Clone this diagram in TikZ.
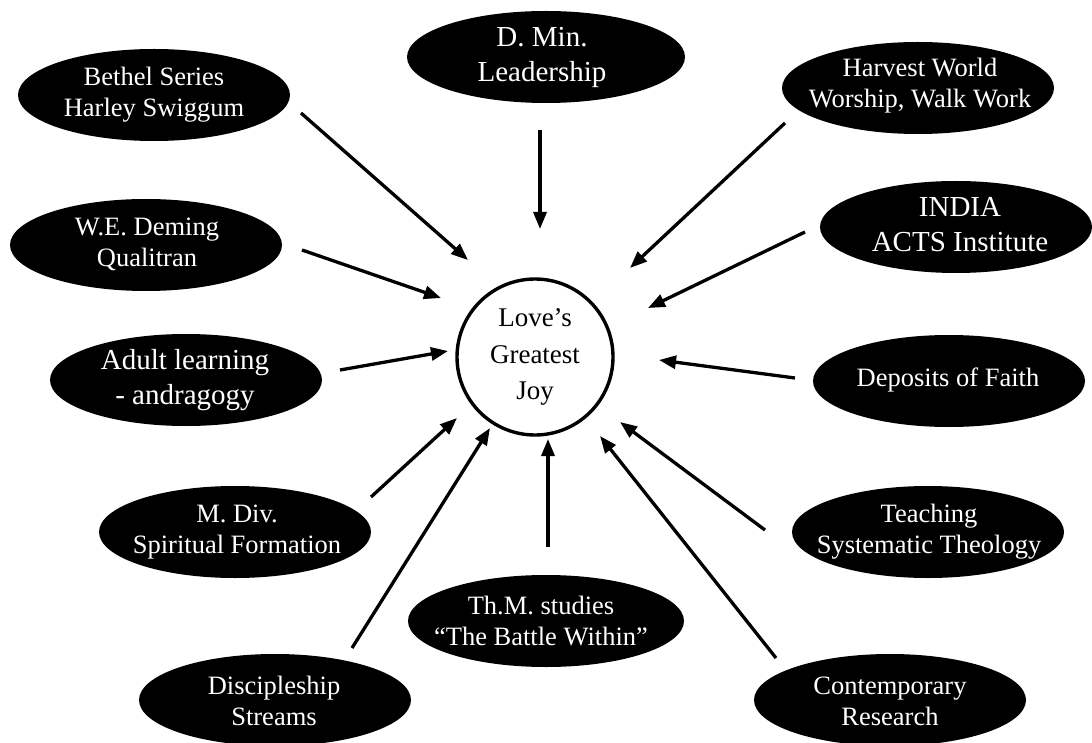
\documentclass[tikz,border=0pt]{standalone}
\usepackage{fontspec}
\setmainfont{Liberation Serif}
\usetikzlibrary{arrows.meta,shapes.geometric}
\tikzset{
  blob/.style={draw=none,fill=black,ellipse,inner sep=0pt,minimum width=272pt,minimum height=92pt},
  blobtxt/.style={text=white,align=center,inner sep=0pt,font=\fontsize{26.5}{31}\selectfont},
  bigtxt/.style={text=white,align=center,inner sep=0pt,font=\fontsize{29}{35}\selectfont},
  hub/.style={circle,draw=black,line width=3.4pt,fill=white,minimum size=156pt,inner sep=0pt,align=center,font=\fontsize{27}{36.5}\selectfont},
  feed/.style={line width=3.3pt,-{Triangle[length=17pt,width=13pt]}}
}
\begin{document}
\begin{tikzpicture}[x=1pt,y=-1pt]
\useasboundingbox (0,0) rectangle (1092,743);
\fill[white] (0,0) rectangle (1092,743);
% center
\node[hub] (c) at (535,357) {Love's\\Greatest\\Joy};
% ellipses
\node[blob] (e1) at (154,95) {};
\node[blobtxt] (t1) at (e1) {Bethel Series\\Harley Swiggum};
\node[blob,minimum width=278pt] (e2) at (546,57) {};
\node[bigtxt] (t2) at (542,57) {D. Min.\\Leadership};
\node[blob] (e3) at (918,88) {};
\node[blobtxt] (t3) at (920,86) {Harvest World\\Worship, Walk Work};
\node[blob] (e4) at (146,245) {};
\node[blobtxt] (t4) at (147,244) {W.E. Deming\\Qualitran};
\node[blob] (e5) at (956,227) {};
\node[bigtxt] (t5) at (960,225) {INDIA\\ACTS Institute};
\node[blob] (e6) at (186,380) {};
\node[bigtxt] (t6) at (185,380) {Adult learning\\- andragogy};
\node[blob] (e7) at (949,381) {};
\node[blobtxt] (t7) at (948,380) {Deposits of Faith};
\node[blob] (e8) at (235,532) {};
\node[blobtxt] (t8) at (237,532) {M. Div.\\Spiritual Formation};
\node[blob] (e9) at (928,532) {};
\node[blobtxt] (t9) at (929,532) {Teaching\\Systematic Theology};
\node[blob,minimum width=276pt] (e10) at (546,621) {};
\node[blobtxt] (t10) at (541,621) {Th.M. studies\\“The Battle Within”};
\node[blob] (e11) at (275,700) {};
\node[blobtxt] (t11) at (274,701) {Discipleship\\Streams};
\node[blob] (e12) at (890,700) {};
\node[blobtxt] (t12) at (890,701) {Contemporary\\Research};
% arrow ends
\coordinate (s1) at (301,113); \coordinate (h1) at (468,260);
\coordinate (s2) at (540,130); \coordinate (h2) at (540,229);
\coordinate (s3) at (785,123); \coordinate (h3) at (630,268);
\coordinate (s4) at (302,250); \coordinate (h4) at (441,298);
\coordinate (s5) at (805,232); \coordinate (h5) at (648,308);
\coordinate (s6) at (340,370); \coordinate (h6) at (448,351);
\coordinate (s7) at (795,378); \coordinate (h7) at (659,360);
\coordinate (s8) at (371,497); \coordinate (h8) at (457,418);
\coordinate (s9) at (765,530); \coordinate (h9) at (620,422);
\coordinate (s10) at (548,547); \coordinate (h10) at (548,439);
\coordinate (s11) at (352,648); \coordinate (h11) at (490,428);
\coordinate (s12) at (776,658); \coordinate (h12) at (600,436);
\foreach \i in {1,...,12} {\draw[feed] (s\i) -- (h\i);}
\end{tikzpicture}
\end{document}
